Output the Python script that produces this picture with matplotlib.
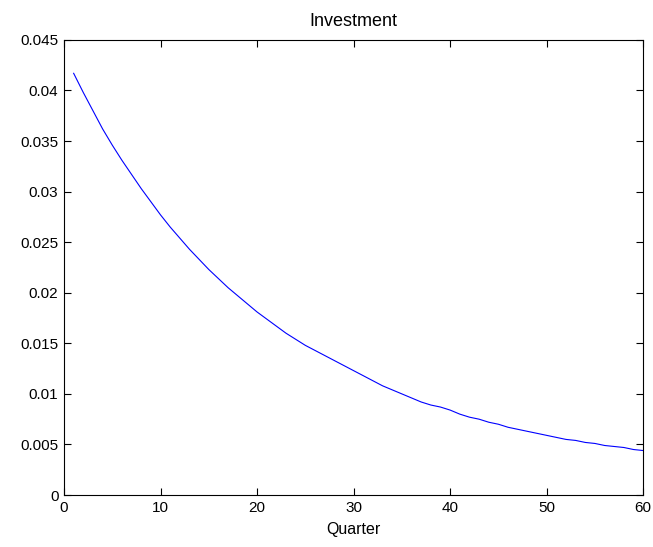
import numpy as np
import matplotlib
matplotlib.use('Agg')
import matplotlib.pyplot as plt
from matplotlib.ticker import FuncFormatter

# impulse response of investment, one value per quarter
quarters = np.arange(1, 61)
investment = [0.0417, 0.0398, 0.0380, 0.0362, 0.0346, 0.0331, 0.0317, 0.0303, 0.0290, 0.0277,
              0.0265, 0.0254, 0.0243, 0.0233, 0.0223, 0.0214, 0.0205, 0.0197, 0.0189, 0.0181,
              0.0174, 0.0167, 0.0160, 0.0154, 0.0148, 0.0143, 0.0138, 0.0133, 0.0128, 0.0123,
              0.0118, 0.0113, 0.0108, 0.0104, 0.0100, 0.0096, 0.0092, 0.0089, 0.0087, 0.0084,
              0.0080, 0.0077, 0.0075, 0.0072, 0.0070, 0.0067, 0.0065, 0.0063, 0.0061, 0.0059,
              0.0057, 0.0055, 0.0054, 0.0052, 0.0051, 0.0049, 0.0048, 0.0047, 0.0045, 0.0044]

xticks = np.arange(0, 61, 10)
yticks = np.arange(0, 0.0451, 0.005)

plt.rcParams['font.family'] = ['Liberation Sans', 'DejaVu Sans']

fig = plt.figure(figsize=(6.53, 5.47), dpi=100)
ax = fig.add_axes([0.098, 0.095, 0.887, 0.832])

ax.plot(quarters, investment, color=(0, 0, 1), linewidth=0.8)

ax.set_xlim(0, 60)
ax.set_ylim(0, 0.045)
ax.set_xticks(xticks)
ax.set_yticks(yticks)
ax.yaxis.set_major_formatter(FuncFormatter(lambda v, p: '%g' % round(v, 4)))
ax.tick_params(direction='in', top=True, right=True, length=5, width=0.8,
               labelsize=11, pad=4)
for s in ax.spines.values():
    s.set_linewidth(0.8)

ax.set_title('Investment', fontsize=13, pad=10)
ax.set_xlabel('Quarter', fontsize=11.5, labelpad=5)

fig.savefig('out.png', dpi=100, facecolor='white')
